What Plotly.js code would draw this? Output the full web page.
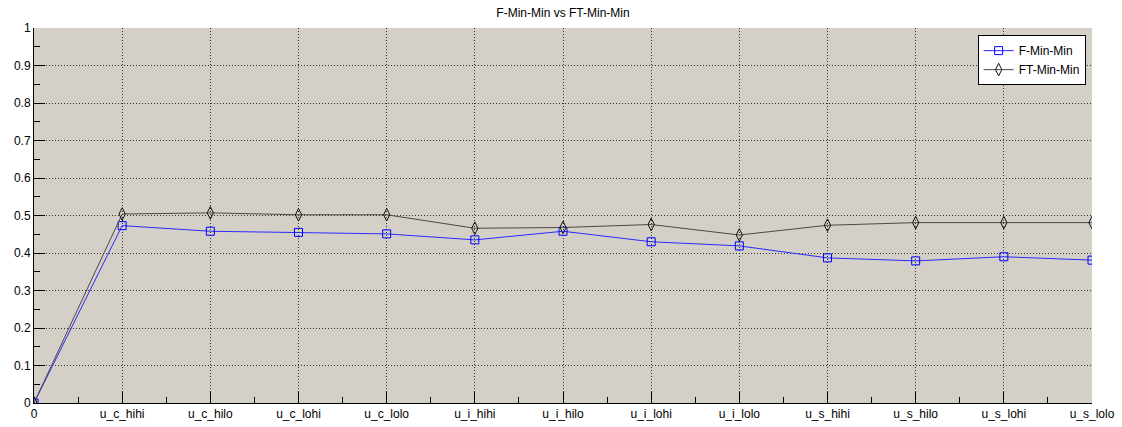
<!DOCTYPE html>
<html>
<head>
<meta charset="utf-8">
<script src="https://cdn.plot.ly/plotly-3.0.1.min.js"></script>
<style>html,body{margin:0;padding:0;background:#fff;}#chart{width:1122px;height:427px;}</style>
</head>
<body>
<div id="chart"></div>
<script>
const categories = ['0','u_c_hihi','u_c_hilo','u_c_lohi','u_c_lolo','u_i_hihi','u_i_hilo','u_i_lohi','u_i_lolo','u_s_hihi','u_s_hilo','u_s_lohi','u_s_lolo'];
const fMinMin  = [0, 0.473, 0.458, 0.455, 0.451, 0.435, 0.458, 0.430, 0.419, 0.387, 0.379, 0.390, 0.381];
const ftMinMin = [0, 0.504, 0.507, 0.502, 0.502, 0.466, 0.468, 0.476, 0.448, 0.474, 0.481, 0.481, 0.481];
const yTicks = [0,0.1,0.2,0.3,0.4,0.5,0.6,0.7,0.8,0.9,1];
const yTickText = ['0','0.1','0.2','0.3','0.4','0.5','0.6','0.7','0.8','0.9','1'];

const xIdx = categories.map((c, i) => i);
const font = {family: 'Liberation Sans, Arial, sans-serif', size: 12, color: '#000'};

const traces = [
  {x: xIdx, y: fMinMin, name: 'F-Min-Min', mode: 'lines+markers', type: 'scatter',
   line: {color: '#2a2aff', width: 1},
   marker: {symbol: 'square-open', size: 8, color: '#0000ff', line: {width: 1}}},
  {x: xIdx, y: ftMinMin, name: 'FT-Min-Min', mode: 'lines+markers', type: 'scatter',
   line: {color: '#4a4a4a', width: 1},
   marker: {symbol: 'diamond-tall-open', size: 9, color: '#111', line: {width: 1}}}
];

const layout = {
  width: 1122, height: 427,
  margin: {l: 34, r: 30, t: 28, b: 24, pad: 0},
  paper_bgcolor: '#ffffff', plot_bgcolor: '#d4d0c8',
  font: font,
  title: {text: 'F-Min-Min vs FT-Min-Min', x: 0.5018, xanchor: 'center', y: 0.97, yanchor: 'middle', font: {family: font.family, size: 12, color: '#000'}},
  showlegend: true,
  legend: {x: 0.994, xanchor: 'right', y: 0.981, yanchor: 'top', bgcolor: '#ffffff', bordercolor: '#000', borderwidth: 1,
           font: {family: font.family, size: 12, color: '#000'}, itemwidth: 30, tracegroupgap: 0},
  xaxis: {
    range: [0, 12], tickmode: 'array', tickvals: xIdx, ticktext: categories,
    showgrid: true, gridcolor: '#333', griddash: '1px,2px', gridwidth: 1,
    zeroline: false, showline: true, linecolor: '#000', linewidth: 1, mirror: false,
    ticks: 'inside', ticklen: 11, tickcolor: '#000', tickwidth: 1,
    minor: {dtick: 0.5, tick0: 0, ticks: 'inside', ticklen: 6, tickcolor: '#000', showgrid: false},
    tickfont: font, fixedrange: true
  },
  yaxis: {
    range: [0, 1], tickmode: 'array', tickvals: yTicks, ticktext: yTickText,
    showgrid: true, gridcolor: '#333', griddash: '1px,2px', gridwidth: 1,
    zeroline: false, showline: true, linecolor: '#000', linewidth: 1, mirror: false,
    ticks: 'inside', ticklen: 11, tickcolor: '#000', tickwidth: 1,
    minor: {dtick: 0.05, tick0: 0, ticks: 'inside', ticklen: 6, tickcolor: '#000', showgrid: false},
    tickfont: font, fixedrange: true
  }
};

Plotly.newPlot('chart', traces, layout, {displayModeBar: false, staticPlot: true});
</script>
</body>
</html>
